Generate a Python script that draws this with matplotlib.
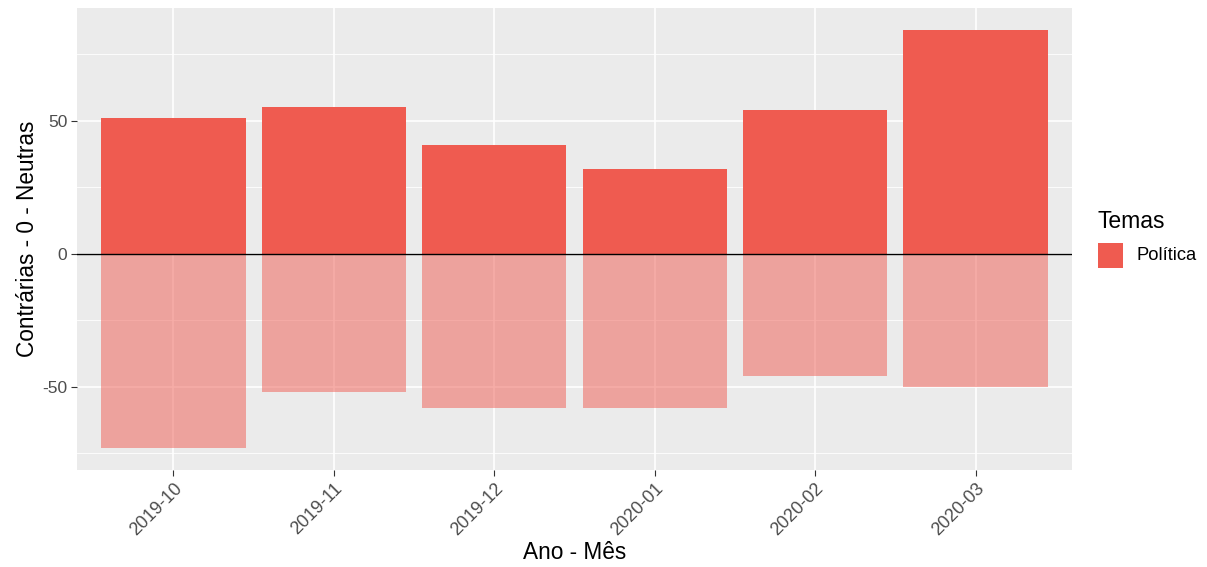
import matplotlib
matplotlib.use("Agg")
import matplotlib.pyplot as plt
from matplotlib.patches import Rectangle

# Data
meses = ["2019-10", "2019-11", "2019-12", "2020-01", "2020-02", "2020-03"]
contrarias = [51, 55, 41, 32, 54, 84]
neutras = [-73, -52, -58, -58, -46, -50]
tema = "Política"

COR_TEMA = "#EF5B50"

plt.rcParams["font.family"] = ["Liberation Sans", "DejaVu Sans"]

fig = plt.figure(figsize=(12.07, 5.67), dpi=100)
ax = fig.add_axes([77 / 1207, 97 / 567, 995 / 1207, 462 / 567])
ax.set_facecolor("#EBEBEB")

x = list(range(1, len(meses) + 1))

# grid (ggplot-like)
for v in [-75, -25, 25, 75]:
    ax.axhline(v, color="white", lw=0.6, zorder=0)
for v in [-50, 0, 50]:
    ax.axhline(v, color="white", lw=1.2, zorder=0)
for xi in x:
    ax.axvline(xi, color="white", lw=1.2, zorder=0)

ax.bar(x, contrarias, width=0.9, color=COR_TEMA, zorder=2)
# neutras drawn with transparency, grid shows through
ax.bar(x, neutras, width=0.9, color=COR_TEMA, alpha=0.5, zorder=2)
ax.axhline(0, color="black", lw=1.0, zorder=3)

ax.set_xlim(0.4, 6.6)
ax.set_ylim(-81.2, 92.3)
ax.set_yticks([-50, 0, 50])
ax.set_yticklabels(["-50", "0", "50"])
ax.set_xticks(x)
ax.set_xticklabels(meses, rotation=45, ha="right", va="top", rotation_mode="anchor")

for s in ax.spines.values():
    s.set_visible(False)
ax.tick_params(axis="both", colors="#333333", length=4, width=0.8,
               labelsize=12.5, labelcolor="#4D4D4D", pad=3)
ax.tick_params(axis="x", labelsize=13, pad=3)

ax.set_xlabel("Ano - Mês", fontsize=16.3, labelpad=2)
ax.set_ylabel("Contrárias - 0 - Neutras", fontsize=16.3, labelpad=2)

# legend
fig.text(1098 / 1207, 1 - 222 / 567, "Temas", fontsize=16.5, va="center", ha="left")
fig.patches.append(Rectangle((1098 / 1207, 1 - 268 / 567), 25 / 1207, 25 / 567,
                             transform=fig.transFigure, facecolor=COR_TEMA,
                             edgecolor="none"))
fig.text(1136 / 1207, 1 - 256 / 567, tema, fontsize=13.2, va="center", ha="left")

fig.savefig("out.png", dpi=100)
